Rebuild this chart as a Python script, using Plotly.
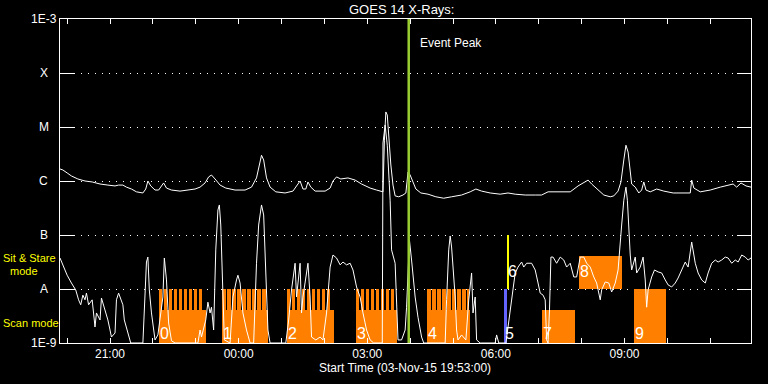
import numpy as np
import pandas as pd
import plotly.graph_objects as go

# ---------------- data ----------------
long_time = ["19:50","19:54","20:00","20:06","20:15","20:25","20:35","20:46","20:57","21:07","21:12","21:18","21:23","21:30","21:37","21:46","21:50","21:53","21:57","22:03","22:08","22:12","22:15","22:19","22:26","22:38","22:49","22:59","23:06","23:13","23:18","23:22","23:27","23:34","23:42","23:55","00:09","00:18","00:25","00:30","00:32","00:35","00:39","00:44","00:52","01:05","01:16","01:23","01:26","01:30","01:34","01:37","01:41","01:47","02:01","02:08","02:12","02:17","02:23","02:33","02:43","02:52","03:04","03:13","03:22","03:24","03:26","03:28","03:30","03:33","03:36","03:39","03:44","03:50","03:54","03:57","04:00","04:04","04:08","04:15","04:25","04:36","04:47","04:58","05:12","05:24","05:32","05:40","05:52","06:06","06:17","06:27","06:41","06:55","07:04","07:13","07:27","07:44","07:55","08:03","08:09","08:14","08:23","08:31","08:40","08:45","08:51","08:55","08:59","09:02","09:05","09:08","09:10","09:15","09:20","09:24","09:27","09:30","09:36","09:45","09:55","10:08","10:20","10:32","10:34","10:37","10:46","11:00","11:14","11:23","11:32","11:37","11:43","11:50","11:57"]
long_flux = [1.67e-6,1.6e-6,1.41e-6,1.24e-6,1.09e-6,1.0e-6,9.6e-7,8.8e-7,8.4e-7,8.1e-7,8.4e-7,8.4e-7,7.7e-7,7.1e-7,6.3e-7,6.0e-7,7.1e-7,1.0e-6,8.1e-7,6.8e-7,6.8e-7,8.1e-7,9.2e-7,7.4e-7,6.8e-7,6.5e-7,6.8e-7,7.1e-7,7.7e-7,9.2e-7,1.19e-6,1.29e-6,1.09e-6,8.4e-7,7.4e-7,6.8e-7,6.8e-7,7.7e-7,1.14e-6,2.25e-6,3.0e-6,2.45e-6,1.14e-6,7.7e-7,6.3e-7,6.0e-7,6.5e-7,8.8e-7,1.0e-6,7.1e-7,7.1e-7,9.6e-7,7.7e-7,6.5e-7,6.5e-7,7.4e-7,1.0e-6,1.19e-6,1.09e-6,1.14e-6,1.04e-6,8.8e-7,7.4e-7,6.8e-7,6.3e-7,5.7e-6,1.9e-5,1.67e-5,5.7e-6,1.98e-6,8.4e-7,5.3e-7,5.1e-7,5.5e-7,6.0e-7,1.47e-6,1.29e-6,9.2e-7,7.1e-7,6.0e-7,5.7e-7,5.1e-7,4.8e-7,5.1e-7,5.5e-7,6.3e-7,7.1e-7,6.5e-7,6.0e-7,5.7e-7,6.0e-7,5.7e-7,5.5e-7,5.5e-7,5.5e-7,6.3e-7,6.3e-7,6.3e-7,8.1e-7,9.2e-7,1.04e-6,8.8e-7,6.8e-7,5.5e-7,5.1e-7,5.3e-7,6.5e-7,9.6e-7,2.45e-6,4.6e-6,3.44e-6,1.74e-6,8.8e-7,7.7e-7,6.0e-7,6.8e-7,9.6e-7,6.8e-7,6.3e-7,7.1e-7,6.5e-7,6.0e-7,6.0e-7,6.0e-7,1.04e-6,7.4e-7,6.3e-7,6.8e-7,7.7e-7,8.1e-7,8.8e-7,7.7e-7,9.2e-7,8.1e-7,7.7e-7]

short_time = ["19:50","19:54","20:00","20:06","20:12","20:16","20:19","20:22","20:25","20:27","20:30","20:35","20:39","20:41","20:46","20:48","20:51","20:54","20:57","21:00","21:02","21:07","21:09","21:12","21:15","21:18","21:20","21:25","21:29","21:46","21:49","21:51","21:53","21:55","21:58","22:03","22:07","22:10","22:14","22:16","22:19","22:22","22:26","22:31","23:03","23:06","23:08","23:14","23:17","23:20","23:22","23:25","23:28","23:31","23:33","23:35","23:38","23:40","23:48","23:52","23:57","23:59","00:02","00:06","00:11","00:16","00:21","00:25","00:28","00:32","00:35","00:38","00:41","00:44","01:06","01:10","01:14","01:19","01:21","01:26","01:28","01:30","01:35","01:37","01:40","01:42","01:48","01:54","01:58","02:03","02:08","02:12","02:17","02:22","02:26","02:31","02:36","02:40","02:45","02:50","02:54","02:59","03:04","03:09","03:21","03:22","03:25","03:28","03:32","03:34","03:39","03:41","03:43","03:48","03:53","03:55","03:59","04:02","04:07","04:11","04:16","04:19","04:49","04:51","04:54","04:56","04:58","05:03","05:05","05:07","05:12","05:18","05:22","05:26","05:28","05:31","05:33","05:38","05:59","06:01","06:04","06:14","06:17","06:20","06:22","06:24","06:27","06:31","06:36","06:39","06:43","06:50","06:55","06:59","07:02","07:06","07:09","07:11","07:13","07:15","07:17","07:20","07:25","07:30","07:35","07:39","07:44","07:49","07:53","07:58","08:03","08:07","08:12","08:17","08:21","08:26","08:28","08:33","08:38","08:42","08:47","08:51","08:54","08:56","08:59","09:02","09:04","09:06","09:08","09:10","09:15","09:17","09:22","09:26","09:29","09:31","09:33","09:38","09:42","09:47","09:52","09:57","10:01","10:06","10:11","10:15","10:20","10:25","10:29","10:34","10:39","10:43","10:48","10:53","10:57","11:02","11:07","11:11","11:16","11:21","11:25","11:30","11:35","11:39","11:44","11:49","11:53","11:57"]
short_flux = [3.75e-8,2.8e-8,1.8e-8,1.29e-8,9.6e-9,6.3e-9,5.1e-9,7.7e-9,6.3e-9,8.4e-9,5.1e-9,6.3e-9,1.98e-9,3.6e-9,2.67e-9,6.8e-9,5.1e-9,3.6e-9,2.67e-9,1.74e-9,1.29e-9,1.53e-9,6.3e-9,8.4e-9,6.8e-9,5.1e-9,2.67e-9,1.53e-9,1e-9,1e-9,6.3e-9,3.16e-8,3.9e-8,9.6e-9,3.6e-9,1.14e-9,1.41e-9,2.67e-9,7.1e-9,3.75e-8,1.47e-8,2.35e-9,1.1e-9,1e-9,1e-9,1.74e-9,1.29e-9,2.67e-9,5.7e-9,3.6e-9,4.6e-9,1.74e-9,5.3e-8,2.9e-7,3.6e-7,1.53e-7,7.1e-9,1.14e-9,1e-9,7.1e-9,1.47e-8,1.8e-8,1.29e-8,3.6e-9,1.74e-9,1e-9,1e-9,3.0e-8,1.53e-7,3.6e-7,2.35e-7,1.8e-8,1.74e-9,1e-9,1e-9,2.67e-9,9.6e-9,3.0e-8,7.1e-9,3.0e-8,3.6e-9,7.1e-9,1.98e-8,3.0e-8,7.1e-9,1.29e-9,1.14e-9,1.29e-9,1.14e-9,3.6e-9,2.55e-8,4.26e-8,3.75e-8,2.8e-8,3.16e-8,2.8e-8,3.0e-8,2.25e-8,1.09e-8,7.1e-9,3.6e-9,1.74e-9,1.14e-9,1e-9,1e-9,5.06e-6,1.09e-5,4.6e-6,4.4e-7,5.3e-8,3.0e-8,7.1e-9,1.14e-9,1.14e-9,1.74e-9,4.6e-9,8.1e-8,3.44e-8,7.1e-9,3.0e-9,1.29e-9,1e-9,1e-9,6.3e-9,5.3e-8,9.6e-8,6.0e-8,7.1e-9,1.74e-9,1.14e-9,1.41e-9,1.14e-9,6.3e-9,1.98e-8,3.6e-9,7.1e-9,1.14e-9,1e-9,1e-9,1.41e-9,1e-9,1e-9,1.98e-9,3.6e-9,6.3e-9,9.6e-9,1.98e-8,2.55e-8,3.16e-8,2.55e-8,3.0e-8,3.0e-8,2.25e-8,1.29e-8,8.4e-9,7.7e-9,6.3e-9,1.14e-9,1e-9,4.1e-9,3.9e-8,3.9e-8,3.0e-8,3.9e-8,3.44e-8,2.55e-8,3.0e-8,1.67e-8,1.67e-8,3.9e-8,3.9e-8,3.0e-8,2.55e-8,1.67e-8,1.29e-8,6.3e-9,9.6e-9,1.35e-8,1.29e-8,8.8e-9,1.29e-8,2.25e-8,6.0e-8,1.53e-7,4.4e-7,7.7e-7,4.4e-7,1e-7,4.26e-8,2.25e-8,3.9e-8,1.98e-8,2.55e-8,3.9e-8,1.47e-8,4.6e-9,9.6e-9,1.67e-8,2.25e-8,2.07e-8,1.98e-8,1.47e-8,1.19e-8,1.09e-8,1.29e-8,1.6e-8,2.25e-8,3.16e-8,2.55e-8,7.4e-8,3.0e-8,1.98e-8,1.47e-8,1.29e-8,1.98e-8,3.0e-8,3.44e-8,3.16e-8,3.44e-8,3.9e-8,3.75e-8,3.0e-8,3.44e-8,3.16e-8,4.26e-8,3.9e-8,3.44e-8,3.75e-8]

raster_ids = ["0", "1", "2", "3", "4", "5", "6", "7", "8", "9"]
raster_start = ["22:08", "23:37", "01:07", "02:44", "04:24", "06:11", "06:16", "07:05", "07:56", "09:13"]
raster_end = ["23:14", "00:41", "02:13", "03:42", "05:24", "06:15", "06:17", "07:51", "08:57", "09:58"]
raster_low = [1e-9, 1e-9, 1e-9, 1e-9, 1e-9, 1e-9, 1e-8, 1e-9, 1e-8, 1e-9]
raster_high = [4.1e-9, 4.1e-9, 4.1e-9, 4.1e-9, 4.1e-9, 1e-8, 1e-7, 4.1e-9, 4.1e-8, 1e-8]
raster_mode = ["scan", "scan", "scan", "scan", "scan", "scan", "sit", "scan", "sit", "scan"]

repeat_start = ["22:08","22:15","22:22","22:29","22:36","22:43","22:50","22:57","23:04",
                "23:37","23:44","23:51","23:58","00:05","00:12","00:19","00:26","00:33",
                "01:07","01:14","01:21","01:28","01:35","01:42","01:49","01:56","02:03",
                "02:44","02:51","02:58","03:05","03:12","03:19","03:26","03:33",
                "04:24","04:31","04:38","04:45","04:52","04:59","05:06","05:13","05:19"]
repeat_end = ["22:13","22:20","22:27","22:34","22:41","22:48","22:55","23:02","23:09",
              "23:42","23:49","23:56","00:03","00:10","00:17","00:24","00:31","00:38",
              "01:12","01:19","01:26","01:33","01:40","01:47","01:54","02:01","02:08",
              "02:49","02:56","03:03","03:10","03:17","03:24","03:31","03:38",
              "04:29","04:36","04:43","04:50","04:57","05:04","05:11","05:18","05:23"]
repeat_low = 1e-9
repeat_high = 1e-8

event_peak = "03:58"
axis_start = "19:50"
axis_end = "11:57"

goes_levels = [1e-9, 1e-8, 1e-7, 1e-6, 1e-5, 1e-4, 1e-3]
goes_labels = ["1E-9", "A", "B", "C", "M", "X", "1E-3"]
label_level = {"scan": 1.53e-9, "sit": 2.07e-8}

# ---------------- helpers ----------------
def ts(hm):
    h = int(hm.split(":")[0])
    day = "2015-11-03" if h >= 19 else "2015-11-04"
    return pd.Timestamp(f"{day} {hm}")

ORANGE = "#ff8000"
special_color = {"5": "#6464ff", "6": "#ffff00"}
FONT = "Liberation Sans"

fig = go.Figure()

# raster bars
r_start = [ts(s) for s in raster_start]
r_end = [ts(e) for e in raster_end]
fig.add_trace(go.Bar(
    x=r_start,
    y=[h - l for h, l in zip(raster_high, raster_low)],
    base=raster_low,
    width=[(e - s).total_seconds() * 1000 for s, e in zip(r_start, r_end)],
    offset=0,
    marker=dict(color=[special_color.get(i, ORANGE) for i in raster_ids], line=dict(width=0)),
    hoverinfo="skip", showlegend=False,
))
# repeated raster teeth
p_start = [ts(s) for s in repeat_start]
p_end = [ts(e) for e in repeat_end]
fig.add_trace(go.Bar(
    x=p_start,
    y=[repeat_high - repeat_low] * len(p_start),
    base=[repeat_low] * len(p_start),
    width=[(e - s).total_seconds() * 1000 for s, e in zip(p_start, p_end)],
    offset=0,
    marker=dict(color=ORANGE, line=dict(width=0)),
    hoverinfo="skip", showlegend=False,
))

# GOES curves
fig.add_trace(go.Scatter(x=[ts(t) for t in long_time], y=long_flux, mode="lines",
                         line=dict(color="white", width=1), showlegend=False))
fig.add_trace(go.Scatter(x=[ts(t) for t in short_time], y=short_flux, mode="lines",
                         line=dict(color="white", width=1), showlegend=False))

# event peak line
ep = ts(event_peak)
fig.add_trace(go.Scatter(x=[ep, ep], y=[goes_levels[0], goes_levels[-1]], mode="lines",
                         line=dict(color="#9acd32", width=2.5), showlegend=False))

annotations = []
for i, s, m in zip(raster_ids, r_start, raster_mode):
    annotations.append(dict(x=s, y=np.log10(label_level[m]), xref="x", yref="y", text=i,
                            showarrow=False, xanchor="left", yanchor="middle", xshift=-1,
                            font=dict(family=FONT, size=16, color="white")))
for v, t in zip(goes_levels, goes_labels):
    annotations.append(dict(x=-0.0232, y=np.log10(v), xref="paper", yref="y", text=t,
                            showarrow=False, xanchor="center", yanchor="middle",
                            font=dict(family=FONT, size=12, color="white")))
annotations += [
    dict(x=0.4949, y=1.029, xref="paper", yref="paper", text="GOES 14 X-Rays:", showarrow=False,
         xanchor="center", yanchor="middle", font=dict(family=FONT, size=13, color="white")),
    dict(x=ep, y=0.926, xref="x", yref="paper", text="Event Peak", showarrow=False,
         xanchor="left", yanchor="middle", xshift=9, font=dict(family=FONT, size=12, color="white")),
    dict(x=0.4993, y=-0.077, xref="paper", yref="paper", text="Start Time (03-Nov-15 19:53:00)",
         showarrow=False, xanchor="center", yanchor="middle", font=dict(family=FONT, size=12, color="white")),
    dict(x=-0.085, y=0.2614, xref="paper", yref="paper", text="Sit & Stare", showarrow=False,
         xanchor="left", yanchor="middle", font=dict(family=FONT, size=11, color="#ffff00")),
    dict(x=-0.0515, y=0.2222, xref="paper", yref="paper", text="mode", showarrow=False,
         xanchor="center", yanchor="middle", font=dict(family=FONT, size=11, color="#ffff00")),
    dict(x=-0.085, y=0.0617, xref="paper", yref="paper", text="Scan mode", showarrow=False,
         xanchor="left", yanchor="middle", font=dict(family=FONT, size=11, color="#ffff00")),
]

fig.update_layout(
    width=768, height=384, autosize=False,
    margin=dict(l=60, r=17, t=19, b=41, pad=0),
    paper_bgcolor="black", plot_bgcolor="black",
    barmode="overlay", bargap=0,
    showlegend=False,
    annotations=annotations,
    font=dict(family=FONT, size=12, color="white"),
    xaxis=dict(
        type="date", range=[ts(axis_start), ts(axis_end)],
        showgrid=False, zeroline=False,
        showline=True, linecolor="white", linewidth=1, mirror="ticks",
        ticks="inside", ticklen=5, tickcolor="white", tickwidth=1,
        tick0="2015-11-04 00:00", dtick=3 * 3600000, tickformat="%H:%M",
        tickfont=dict(family=FONT, size=12, color="white"),
        minor=dict(dtick=3600000, ticks="inside", ticklen=5, tickcolor="white", tickwidth=1, showgrid=False),
    ),
    yaxis=dict(
        type="log", range=[-9, -3],
        tickvals=goes_levels, showticklabels=False,
        showline=True, linecolor="white", linewidth=1, mirror="ticks",
        ticks="inside", ticklen=14, tickcolor="white", tickwidth=1,
        showgrid=True, gridcolor="white", gridwidth=1, griddash="1px,6px",
        zeroline=False,
    ),
)

fig.write_html("out.html", config={"displayModeBar": False},
               post_script="document.body.style.margin='0';document.body.style.background='black';")
